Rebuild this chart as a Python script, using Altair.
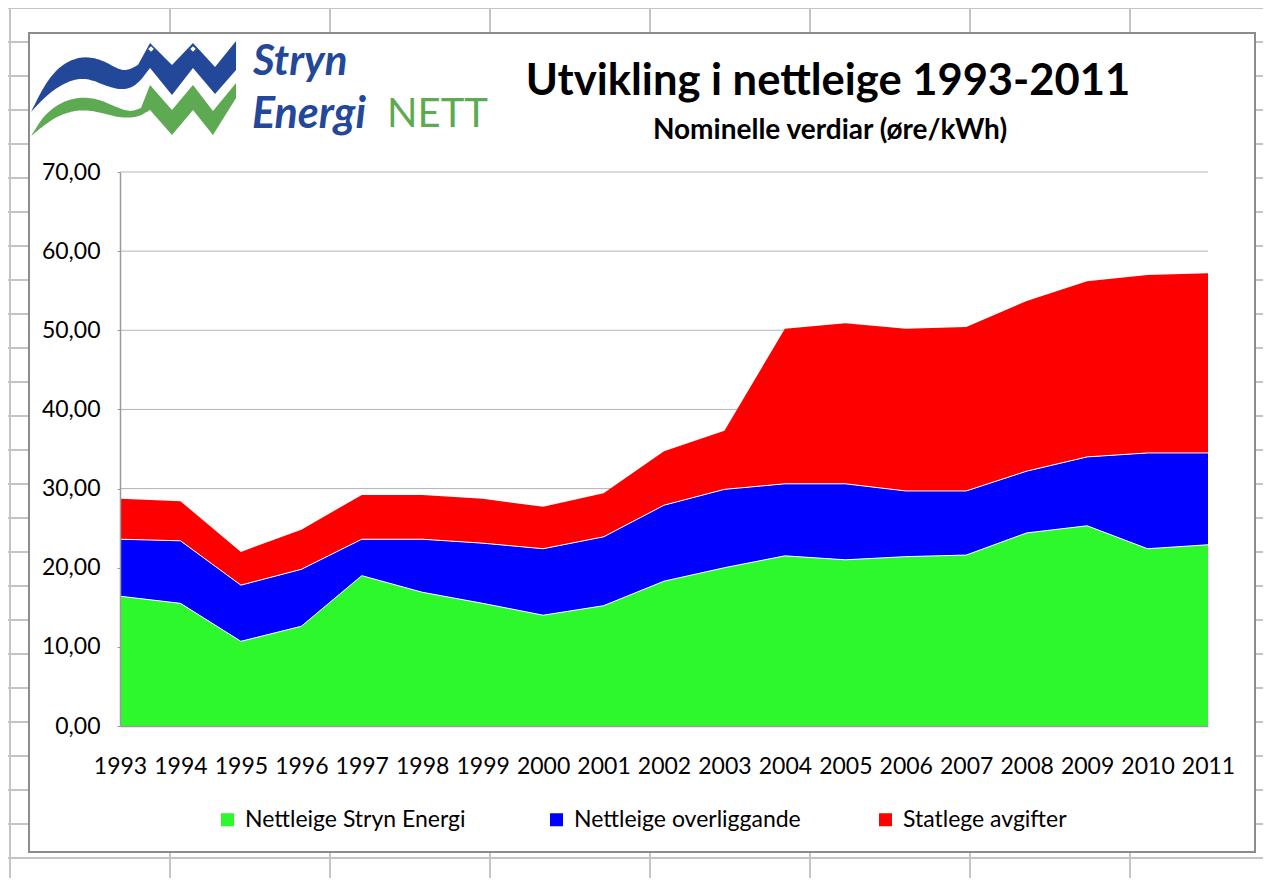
import altair as alt
import pandas as pd

# ---------------- data ----------------
years = list(range(1993, 2012))
series_names = ["Nettleige Stryn Energi", "Nettleige overliggande", "Statlege avgifter"]
stryn = [16.4, 15.5, 10.7, 12.6, 19.0, 16.9, 15.5, 14.0, 15.2, 18.3,
         20.0, 21.5, 21.0, 21.4, 21.6, 24.4, 25.3, 22.4, 22.9]
overliggande = [7.2, 7.9, 7.1, 7.2, 4.6, 6.7, 7.6, 8.4, 8.7, 9.6,
                9.9, 9.1, 9.6, 8.3, 8.1, 7.8, 8.7, 12.1, 11.6]
statlege = [5.1, 5.0, 4.2, 5.0, 5.6, 5.6, 5.6, 5.3, 5.5, 6.8,
            7.4, 19.6, 20.3, 20.5, 20.7, 21.5, 22.2, 22.5, 22.7]
colors = ["#2CF82C", "#0000FF", "#FF0000"]
y_ticks = [0, 10, 20, 30, 40, 50, 60, 70]

title_text = "Utvikling i nettleige 1993-2011"
subtitle_text = "Nominelle verdiar (øre/kWh)"

# stacked table (cumulative bottoms / tops)
rows = []
lo = [0.0] * len(years)
for name, vals in zip(series_names, [stryn, overliggande, statlege]):
    for i, (yr, v) in enumerate(zip(years, vals)):
        rows.append({"year": yr, "series": name, "value": v,
                     "lo": round(lo[i], 2), "hi": round(lo[i] + v, 2)})
    lo = [a + b for a, b in zip(lo, vals)]
df = pd.DataFrame(rows)

# ---------------- layout helpers (page px -> plot px) ----------------
OX, OY = 120, 172  # plot origin on the page
W, H = 1088, 554
one = alt.Data(values=[{}])
FONT = "Lato"

x_scale = alt.Scale(domain=[1993, 2011], nice=False, zero=False)
y_scale = alt.Scale(domain=[0, 70], nice=False)
x_axis = alt.Axis(values=years, format="d", title=None, grid=False, ticks=False,
                  domainColor="#9A9A9A", domainWidth=1.5, labelFont=FONT, labelFontSize=23,
                  labelColor="black", labelPadding=29, labelFlush=False,
                  labelOverlap=False, labelAngle=0, zindex=1)
y_axis = alt.Axis(values=y_ticks, title=None, grid=False,
                  labelExpr="replace(format(datum.value, '.2f'), '.', ',')",
                  domainColor="#9A9A9A", domainWidth=1.5, tickColor="#9A9A9A", tickSize=3,
                  labelFont=FONT, labelFontSize=23, labelColor="black",
                  labelPadding=17, zindex=1)

layers = []

# spreadsheet cell grid behind the chart object
for gx in range(10, 1271, 160):
    layers.append(alt.Chart(one).mark_rule(color="#C4C4C4", strokeWidth=2).encode(
        x=alt.value(gx - OX), y=alt.value(-OY), y2=alt.value(886 - OY)))
for gy in range(8, 890, 34):
    layers.append(alt.Chart(one).mark_rule(color="#C4C4C4", strokeWidth=2).encode(
        x=alt.value(-OX), x2=alt.value(1271 - OX), y=alt.value(gy - OY)))

# chart frame
layers.append(alt.Chart(one).mark_rect(fill="white", stroke="#8C8C8C", strokeWidth=2).encode(
    x=alt.value(29 - OX), x2=alt.value(1255 - OX), y=alt.value(33 - OY), y2=alt.value(852 - OY)))

# horizontal gridlines
grid_df = pd.DataFrame({"v": y_ticks[1:]})
layers.append(alt.Chart(grid_df).mark_rule(color="#B4B4B4", strokeWidth=1).encode(
    y=alt.Y("v:Q", scale=y_scale, axis=y_axis)))

# stacked areas
areas = alt.Chart(df).mark_area(opacity=1, interpolate="linear").encode(
    x=alt.X("year:Q", scale=x_scale, axis=x_axis),
    y=alt.Y("hi:Q", scale=y_scale, axis=y_axis),
    y2="lo:Q",
    color=alt.Color("series:N",
                    scale=alt.Scale(domain=series_names, range=colors),
                    legend=alt.Legend(orient="none", legendX=96, legendY=636,
                                      direction="horizontal", columns=3, gridAlign="all",
                                      columnPadding=73, title=None, symbolType="square",
                                      symbolSize=169, symbolStrokeWidth=0, labelFont=FONT,
                                      labelFontSize=23, labelColor="black", labelOffset=6,
                                      labelLimit=500, padding=0)),
)
layers.append(areas)

# thin white separators on top of the lower two layers
layers.append(alt.Chart(df).transform_filter(
    alt.datum.series != series_names[2]).mark_line(color="white", strokeWidth=1).encode(
    x=alt.X("year:Q", scale=x_scale, axis=x_axis),
    y=alt.Y("hi:Q", scale=y_scale, axis=y_axis), detail="series:N"))


# logo: two wave/mountain bands drawn as custom symbol paths
def chaikin(pts, n=3):
    for _ in range(n):
        out = [pts[0]]
        for (x0, y0), (x1, y1) in zip(pts[:-1], pts[1:]):
            out.append((0.75 * x0 + 0.25 * x1, 0.75 * y0 + 0.25 * y1))
            out.append((0.25 * x0 + 0.75 * x1, 0.25 * y0 + 0.75 * y1))
        out.append(pts[-1])
        pts = out
    return pts


blue_top = chaikin([(31, 112), (45, 84), (60, 66), (76, 58), (90, 57), (104, 61),
                    (116, 68), (126, 71), (138, 65)])
blue_mid = [(150, 43), (172, 65), (193, 43), (215, 67), (236, 41), (236, 70),
            (215, 94), (193, 68), (172, 95), (150, 68)]
blue_bot = chaikin([(150, 68), (136, 86), (122, 90), (106, 86), (90, 79), (74, 79),
                    (56, 88), (42, 100), (31, 112)])
green_top = chaikin([(31, 136), (45, 114), (62, 102), (80, 97), (98, 99), (116, 107),
                     (130, 112), (141, 108)])
green_mid = [(150, 85), (172, 110), (193, 85), (213, 111), (236, 83), (236, 98),
             (213, 135), (193, 110), (172, 135), (150, 110)]
green_bot = chaikin([(150, 110), (138, 117), (122, 118), (106, 114), (88, 110),
                     (72, 111), (56, 117), (42, 127), (31, 136)])
LCX, LCY, LH = 133.5, 89.5, 104.0


def to_path(pts):
    p = ["M{:.3f},{:.3f}".format((pts[0][0] - LCX) / LH, (pts[0][1] - LCY) / LH)]
    for px, py in pts[1:]:
        p.append("L{:.3f},{:.3f}".format((px - LCX) / LH, (py - LCY) / LH))
    return "".join(p) + "Z"


for pts, col in [(blue_top + blue_mid + blue_bot, "#23489A"),
                 (green_top + green_mid + green_bot, "#5DAA52")]:
    layers.append(alt.Chart(one).mark_point(shape=to_path(pts), filled=True, fill=col,
                                            opacity=1, strokeWidth=0, size=(2 * LH) ** 2).encode(
        x=alt.value(LCX - OX), y=alt.value(LCY - OY)))

# snow caps on the two peaks
for sx in (151, 193):
    layers.append(alt.Chart(one).mark_point(shape="diamond", filled=True, fill="white",
                                            stroke="#23489A", strokeWidth=1, opacity=1,
                                            size=45).encode(
        x=alt.value(sx - OX), y=alt.value(49 - OY)))

# logo text
layers.append(alt.Chart(one).mark_text(text="Stryn", font=FONT, fontSize=42, fontWeight="bold",
                                       fontStyle="italic", color="#23489A", align="left",
                                       baseline="alphabetic").encode(
    x=alt.value(253 - OX), y=alt.value(75 - OY)))
layers.append(alt.Chart(one).mark_text(text="Energi", font=FONT, fontSize=43, fontWeight="bold",
                                       fontStyle="italic", color="#23489A", align="left",
                                       baseline="alphabetic").encode(
    x=alt.value(252 - OX), y=alt.value(128 - OY)))
layers.append(alt.Chart(one).mark_text(text="NETT", font=FONT, fontSize=40, fontWeight="normal",
                                       color="#5DAA52", align="left",
                                       baseline="alphabetic").encode(
    x=alt.value(387 - OX), y=alt.value(127 - OY)))

# title and subtitle
layers.append(alt.Chart(one).mark_text(text=title_text, font=FONT, fontSize=43.5, fontWeight="bold",
                                       color="black", align="center",
                                       baseline="alphabetic").encode(
    x=alt.value(828 - OX), y=alt.value(95 - OY)))
layers.append(alt.Chart(one).mark_text(text=subtitle_text, font=FONT, fontSize=28, fontWeight="bold",
                                       color="black", align="center",
                                       baseline="alphabetic").encode(
    x=alt.value(830 - OX), y=alt.value(139 - OY)))

chart = alt.layer(*layers).properties(
    width=W, height=H,
    autosize=alt.AutoSizeParams(type="none"),
    padding={"left": OX - 8, "top": OY - 8, "right": 1271 - 8 - OX - W, "bottom": 886 - 8 - OY - H},
    background="white",
).configure_view(stroke=None)

chart.save("out.html", embed_options={"renderer": "svg", "actions": False})
